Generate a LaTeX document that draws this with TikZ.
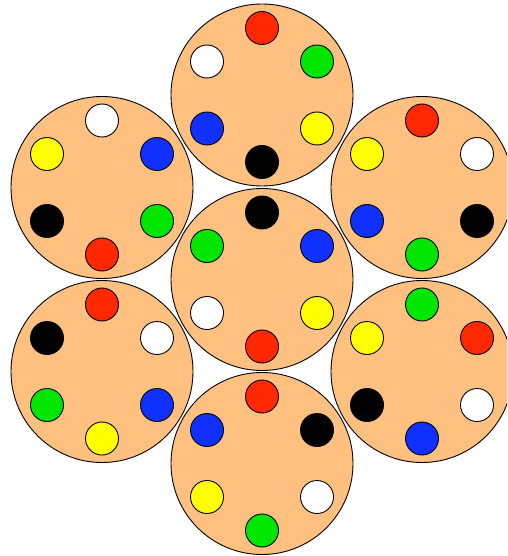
\documentclass[tikz,border=0pt]{standalone}
\definecolor{peach}{RGB}{255,192,128}
\definecolor{dred}{RGB}{255,40,0}
\definecolor{dgreen}{RGB}{0,230,0}
\definecolor{dblue}{RGB}{16,48,255}
\definecolor{dyellow}{RGB}{255,255,0}
\newcommand\wheel[9]{%
  \node[dot,fill=#4] (#1-t)  at ($(#1)+(0,-67)$) {};
  \node[dot,fill=#5] (#1-ur) at ($(#1)+(55,-33.5)$) {};
  \node[dot,fill=#6] (#1-lr) at ($(#1)+(55,33.5)$) {};
  \node[dot,fill=#7] (#1-b)  at ($(#1)+(0,67)$) {};
  \node[dot,fill=#8] (#1-ll) at ($(#1)+(-55,33.5)$) {};
  \node[dot,fill=#9] (#1-ul) at ($(#1)+(-55,-33.5)$) {};
}
\usetikzlibrary{calc}
\begin{document}
\begin{tikzpicture}[x=1pt,y=-1pt,
  big/.style={circle,draw=black,fill=peach,minimum size=182pt,inner sep=0pt,line width=0.9pt},
  dot/.style={circle,draw=black,minimum size=33pt,inner sep=0pt,line width=0.9pt}]
\useasboundingbox (0,0) rectangle (507,556);
\clip (0,0) rectangle (507,556);
\node[big] (T) at (262,95) {};
\node[big] (C) at (262,279.5) {};
\node[big] (B) at (262,463.5) {};
\node[big] (L1) at (102,187.5) {};
\node[big] (L2) at (102,371.5) {};
\node[big] (R1) at (422,187.5) {};
\node[big] (R2) at (422,371.5) {};
\wheel{T}{}{}{dred}{dgreen}{dyellow}{black}{dblue}{white}
\wheel{L1}{}{}{white}{dblue}{dgreen}{dred}{black}{dyellow}
\wheel{R1}{}{}{dred}{white}{black}{dgreen}{dblue}{dyellow}
\wheel{C}{}{}{black}{dblue}{dyellow}{dred}{white}{dgreen}
\wheel{L2}{}{}{dred}{white}{dblue}{dyellow}{dgreen}{black}
\wheel{R2}{}{}{dgreen}{dred}{white}{dblue}{black}{dyellow}
\wheel{B}{}{}{dred}{black}{white}{dgreen}{dyellow}{dblue}
\end{tikzpicture}
\end{document}
